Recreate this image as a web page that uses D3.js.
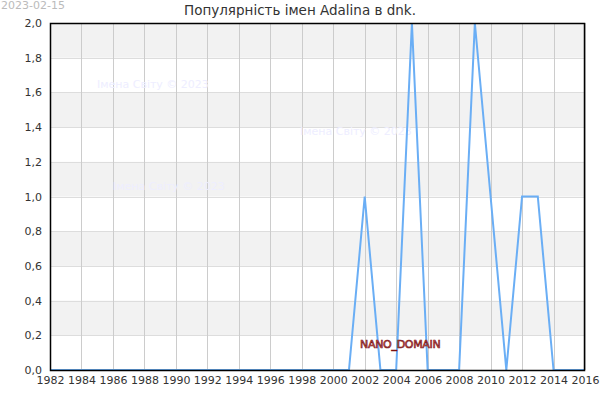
<!DOCTYPE html>
<html>
<head>
<meta charset="utf-8">
<script src="https://cdn.jsdelivr.net/npm/d3@7"></script>
<style>
  body { margin: 0; background: #fff; }
  svg { display: block; font-family: "DejaVu Sans", sans-serif; }
</style>
</head>
<body>
<svg id="chart" width="600" height="400"></svg>
<script>
// Data
let years = d3.range(1982, 2017);
let values = [
  0, 0, 0, 0, 0, 0, 0, 0, 0, 0,   // 1982-1991
  0, 0, 0, 0, 0, 0, 0, 0, 0, 0,   // 1992-2001
  1, 0, 0, 2, 0, 0, 0, 2, 1, 0,   // 2002-2011
  1, 1, 0, 0, 0                   // 2012-2016
];
let xTicks = d3.range(1982, 2017, 2);
let yTicks = d3.range(0, 2.01, 0.2);
let watermarks = [
  { text: "Імена Світу © 2023", x: 97, y: 88 },
  { text: "Імена Світу © 2023", x: 300, y: 135 },
  { text: "Імена Світу © 2023", x: 113, y: 190 }
];

let width = 600, height = 400;
let margin = { top: 23, right: 15, bottom: 30, left: 50 };
let svg = d3.select("#chart");

// Scales
let xScale = d3.scaleLinear()
  .domain([1982, 2016])
  .range([margin.left, width - margin.right]);

let yScale = d3.scaleLinear()
  .domain([0, 2])
  .range([height - margin.bottom, margin.top]);

let fmt = d => d3.format(".1f")(d).replace(".", ",");

// Alternating bands
let bands = d3.range(0, 10).filter(i => i % 2 === 1);
svg.append("g")
  .selectAll("rect")
  .data(bands)
  .join("rect")
  .attr("x", margin.left)
  .attr("width", xScale(2016) - xScale(1982))
  .attr("y", i => yScale((i + 1) * 0.2))
  .attr("height", i => yScale(i * 0.2) - yScale((i + 1) * 0.2))
  .attr("fill", "#f2f2f2");

// Horizontal grid
svg.append("g")
  .selectAll("line")
  .data(yTicks)
  .join("line")
  .attr("x1", margin.left)
  .attr("x2", width - margin.right)
  .attr("y1", d => Math.round(yScale(d)) + 0.5)
  .attr("y2", d => Math.round(yScale(d)) + 0.5)
  .attr("stroke", "#dddddd");

// Vertical grid
svg.append("g")
  .selectAll("line")
  .data(xTicks)
  .join("line")
  .attr("x1", d => Math.round(xScale(d)) + 0.5)
  .attr("x2", d => Math.round(xScale(d)) + 0.5)
  .attr("y1", margin.top)
  .attr("y2", height - margin.bottom)
  .attr("stroke", "#cccccc");

// Watermarks
svg.append("g")
  .selectAll("text")
  .data(watermarks)
  .join("text")
  .attr("x", d => d.x)
  .attr("y", d => d.y)
  .attr("font-size", 11)
  .attr("fill", "#eeeeff")
  .text(d => d.text);

// Line
let line = d3.line()
  .x((d, i) => xScale(years[i]))
  .y(d => yScale(d));

svg.append("path")
  .datum(values)
  .attr("d", line)
  .attr("fill", "none")
  .attr("stroke", "#6aaef5")
  .attr("stroke-width", 2);

// Frame
svg.append("rect")
  .attr("x", margin.left + 0.5)
  .attr("y", margin.top + 0.5)
  .attr("width", xScale(2016) - xScale(1982) - 1)
  .attr("height", yScale(0) - yScale(2))
  .attr("fill", "none")
  .attr("stroke", "#000")
  .attr("stroke-width", 1.5);

// Axes
let xAxis = d3.axisBottom(xScale).tickValues(xTicks).tickFormat(d3.format("d")).tickSize(0).tickPadding(6);
let yAxis = d3.axisLeft(yScale).tickValues(yTicks).tickFormat(fmt).tickSize(0).tickPadding(6);

svg.append("g")
  .attr("transform", `translate(0,${height - margin.bottom})`)
  .call(xAxis)
  .call(g => g.select(".domain").remove())
  .selectAll("text")
  .attr("font-size", 11)
  .style("font-family", "DejaVu Sans")
  .style("fill", "#333");

svg.append("g")
  .attr("transform", `translate(${margin.left - 2},0)`)
  .call(yAxis)
  .call(g => g.select(".domain").remove())
  .selectAll("text")
  .attr("font-size", 11)
  .style("font-family", "DejaVu Sans")
  .style("fill", "#333");

// Title
svg.append("text")
  .attr("x", width / 2)
  .attr("y", 15)
  .attr("text-anchor", "middle")
  .attr("font-size", 13.5)
  .style("fill", "#333")
  .text("Популярність імен Adalina в dnk.");

// Date
svg.append("text")
  .attr("x", 1)
  .attr("y", 9)
  .attr("font-size", 11)
  .style("fill", "#bbbbbb")
  .text("2023-02-15");

// Domain label
svg.append("text")
  .attr("x", 360)
  .attr("y", 348)
  .attr("font-size", 11)
  .attr("letter-spacing", -0.3)
  .attr("fill", "#d06a6a")
  .attr("stroke", "#7a1010")
  .attr("stroke-width", 0.6)
  .text("NANO_DOMAIN");
</script>
</body>
</html>
